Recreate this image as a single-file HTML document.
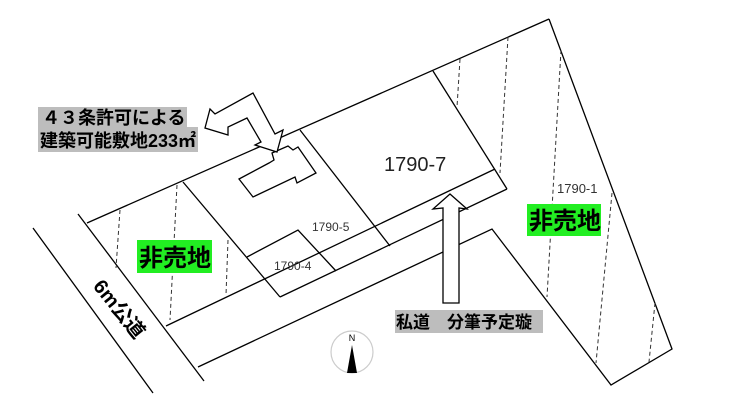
<!DOCTYPE html>
<html><head><meta charset="utf-8"><style>
body{margin:0;background:#fff;}
svg{display:block;}
text{font-family:"Liberation Sans","Noto Sans CJK JP",sans-serif;}
</style></head><body>
<svg width="740" height="416" viewBox="0 0 740 416" xmlns="http://www.w3.org/2000/svg">
<g stroke="#000" stroke-width="1.3" fill="none">
<line x1="33" y1="228" x2="153" y2="393"/>
<line x1="78" y1="214" x2="204" y2="381"/>
<line x1="87" y1="223" x2="549" y2="19"/>
<polyline points="549,19 672,349 611,385 492,229 198,367"/>
<line x1="166" y1="326" x2="495" y2="169"/>
<line x1="280" y1="297" x2="507" y2="189"/>
<line x1="183" y1="182" x2="280" y2="297"/>
<line x1="300" y1="130" x2="390" y2="246"/>
<line x1="433" y1="71" x2="507" y2="189"/>
<polyline points="247,257 298,230 336,271"/>
<polygon points="239,179 253,197 295,177 297,183 316,173 298,147 293,150 288,146 272,153 274,160 269,163" fill="#fff"/>
<polygon points="210,109 215,114 253,93 275,134 283,130 277,152 255,145 261,142 247,118 228,127 228,135 205,128" fill="#fff"/>
<polygon points="443,303 443,208 433,209 450,194 467,209 459,208 459,303" fill="#fff"/>
</g>
<g stroke="#333" stroke-width="1" stroke-dasharray="4,3" fill="none">
<line x1="120" y1="210" x2="116" y2="268"/>
<line x1="177" y1="185" x2="170" y2="320"/>
<line x1="228" y1="240" x2="226" y2="295"/>
<line x1="460" y1="59" x2="457" y2="107"/>
<line x1="508" y1="37" x2="500" y2="173"/>
<line x1="561" y1="50" x2="547" y2="297"/>
<line x1="612" y1="193" x2="596" y2="363"/>
<line x1="655" y1="303" x2="649" y2="362"/>
</g>
<rect x="38" y="107" width="149" height="20" fill="#bdbdbd"/>
<rect x="38" y="127" width="160" height="25" fill="#bdbdbd"/>
<text x="42" y="124" font-size="18" font-weight="bold">４３条許可による</text>
<text x="40" y="147" font-size="18" font-weight="bold">建築可能敷地233㎡</text>
<rect x="137" y="240" width="75" height="33" fill="#22ee22"/>
<text x="139" y="266" font-size="24" font-weight="bold">非売地</text>
<rect x="527" y="204" width="74" height="32" fill="#22ee22"/>
<text x="529" y="229" font-size="24" font-weight="bold">非売地</text>
<text x="384" y="171" font-size="20" fill="#222">1790-7</text>
<text x="312" y="231" font-size="12" fill="#333">1790-5</text>
<text x="274" y="270" font-size="12" fill="#333">1790-4</text>
<text x="557" y="193" font-size="13" fill="#333">1790-1</text>
<rect x="395" y="310" width="148" height="23" fill="#bdbdbd"/>
<text x="396" y="328" font-size="17" font-weight="bold">私道　分筆予定璇</text>
<text transform="translate(118,310) rotate(51)" text-anchor="middle" dominant-baseline="middle" font-size="20" font-weight="bold">6m公道</text>
<circle cx="352" cy="352" r="21" fill="none" stroke="#ccc" stroke-width="1.2"/>
<text x="352" y="341" font-size="9" text-anchor="middle" font-family="Liberation Serif">N</text>
<polygon points="352,345 347,373 357,373" fill="#000"/>
</svg>
</body></html>
